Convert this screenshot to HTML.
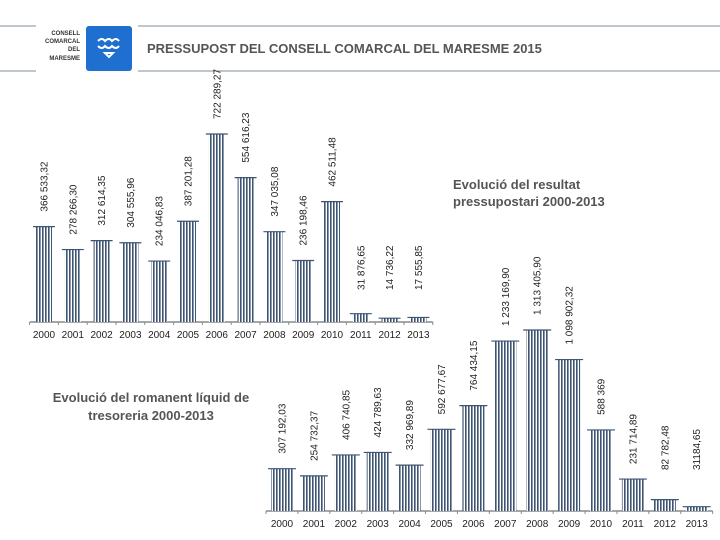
<!DOCTYPE html>
<html><head><meta charset="utf-8"><style>
body{margin:0;background:#fff;width:720px;height:540px;overflow:hidden;font-family:"Liberation Sans",sans-serif}
svg{display:block}
</style></head><body>
<svg id="c" width="720" height="540" xmlns="http://www.w3.org/2000/svg">
<defs>
<pattern id="hatch" width="3" height="4" patternUnits="userSpaceOnUse">
<rect width="3" height="4" fill="#fff"/><rect width="1.6" height="4" fill="#3d5472"/>
</pattern>
</defs>
<g>
<line x1="0" y1="26" x2="36" y2="26" stroke="#7f8c99" stroke-width="1"/>
<line x1="0" y1="71" x2="36" y2="71" stroke="#7f8c99" stroke-width="1"/>
<line x1="138" y1="26" x2="720" y2="26" stroke="#7f8c99" stroke-width="1"/>
<line x1="138" y1="71" x2="720" y2="71" stroke="#7f8c99" stroke-width="1"/>
<g font-size="6" font-weight="bold" fill="#333" text-anchor="end">
<text x="80" y="35">CONSELL</text><text x="80" y="43">COMARCAL</text><text x="80" y="51">DEL</text><text x="80" y="60">MARESME</text></g>
<rect x="86" y="26" width="46" height="45" rx="3" fill="#1e6fd0"/>
<path d="M98 41 q4 -4 7 0 q4 -4 7 0 q4 -4 7 0 M98 46 q4 4 7 0 q4 4 7 0 q4 4 7 0 M105 53 l4 4 l4 -4z" stroke="#fff" stroke-width="2" fill="none"/>
<text x="147" y="53" font-size="13" font-weight="bold" fill="#555">PRESSUPOST DEL CONSELL COMARCAL DEL MARESME 2015</text>
</g>
<g font-size="13" font-weight="bold" fill="#555">
<text x="453" y="189">Evolució del resultat</text><text x="453" y="206">pressupostari 2000-2013</text></g>
<g font-size="13" font-weight="bold" fill="#555" text-anchor="middle">
<text x="151" y="402">Evolució del romanent líquid de</text><text x="151" y="420">tresoreria 2000-2013</text></g>
<g id="top"></g>
<g id="bot"></g>
</svg>
<script>
const years=["2000","2001","2002","2003","2004","2005","2006","2007","2008","2009","2010","2011","2012","2013"];
const resultatValues=[366533.32,278266.30,312614.35,304555.96,234046.83,387201.28,722289.27,554616.23,347035.08,236198.46,462511.48,31876.65,14736.22,17555.85];
const resultatLabels=["366 533,32","278 266,30","312 614,35","304 555,96","234 046,83","387 201,28","722 289,27","554 616,23","347 035,08","236 198,46","462 511,48","31 876,65","14 736,22","17 555,85"];
const romanentValues=[307192.03,254732.37,406740.85,424789.63,332969.89,592677.67,764434.15,1233169.90,1313405.90,1098902.32,588369,231714.89,82782.48,31184.65];
const romanentLabels=["307 192,03","254 732,37","406 740,85","424 789,63","332 969,89","592 677,67","764 434,15","1 233 169,90","1 313 405,90","1 098 902,32","588 369","231 714,89","82 782,48","31184,65"];
const NS="http://www.w3.org/2000/svg";
function mk(p,t,a){const e=document.createElementNS(NS,t);for(const k in a)e.setAttribute(k,a[k]);p.appendChild(e);return e;}
function draw(g,vals,labs,o){
  const x=i=>o.x0+i*o.step, y=v=>o.base-v*o.scale;
  const ax=mk(g,'line',{x1:o.x0-o.step/2,y1:o.base,x2:o.x0+13.5*o.step,y2:o.base,stroke:'#8a8a8a','stroke-width':1.5});
  
  
  for(let i=0;i<=14;i++){const tx=o.x0+(i-0.5)*o.step;mk(g,'line',{x1:tx,y1:o.base,x2:tx,y2:o.base+3,stroke:'#8a8a8a'});}
  vals.forEach((v,i)=>{
    const top=y(v);
    const b=mk(g,'rect',{x:x(i)-o.bw/2,y:top,width:o.bw,height:o.base-top,fill:'url(#hatch)'});
    
    
    mk(g,'line',{x1:x(i)-o.bw/2-3,y1:top,x2:x(i)+o.bw/2+3,y2:top,stroke:'#3d5472','stroke-width':1.2});
    const ly=Math.min(top-15,o.maxLabelY);
    const t=mk(g,'text',{transform:`translate(${x(i)+3.5},${ly}) rotate(-90)`,'font-size':10,fill:'#222'});
    t.textContent=labs[i];
    
    
    const yl=mk(g,'text',{x:x(i),y:o.base+16,'font-size':10,fill:'#222','text-anchor':'middle'});
    yl.textContent=years[i];
    
    
  });
}
draw(document.getElementById('top'),resultatValues,resultatLabels,{x0:44,step:28.8,base:322,scale:188/722289,bw:16,maxLabelY:290});
draw(document.getElementById('bot'),romanentValues,romanentLabels,{x0:282,step:31.9,base:511,scale:181/1313406,bw:22,maxLabelY:470});
</script>
</body></html>
